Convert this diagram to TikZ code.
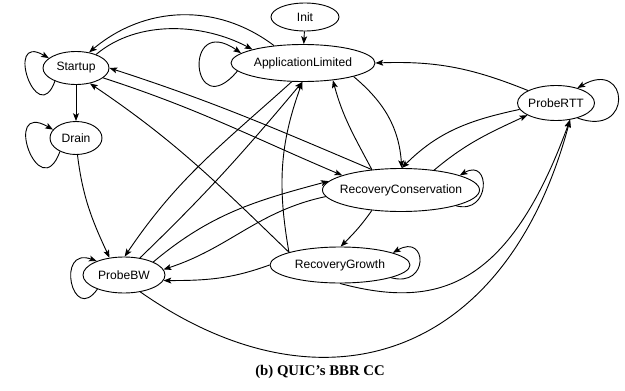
\documentclass[tikz,border=0pt]{standalone}
\usepackage{fontspec}
\setmainfont{Liberation Sans}
\newfontfamily\capfont{Liberation Serif}
\usepackage{tikz}
\usetikzlibrary{shapes.geometric, arrows.meta}
\tikzset{
    state/.style = {ellipse, draw = black, line width = 0.65pt, inner xsep = -4pt, inner ysep = 0pt, font = \fontsize{8.6}{10}\selectfont},
    trans/.style = {-{Stealth[length = 5.5pt, width = 4.2pt, inset = 1.2pt]}, line width = 0.65pt},
    caption/.style = {font = \capfont\bfseries\fontsize{10.5}{12}\selectfont}
}

\begin{document}
\begin{tikzpicture}
        \useasboundingbox (0,0) rectangle (15.625,9.75);
        \node [state, minimum width = 1.7cm, minimum height = 0.7cm] (init) at (7.625,9.325) {Init};
        \node [state, minimum width = 3.6cm, minimum height = 0.925cm] (app) at (7.575,8.175) {ApplicationLimited};
        \node [state, minimum width = 1.65cm, minimum height = 0.825cm] (start) at (1.9,8.05) {Startup};
        \node [state, minimum width = 1.3cm, minimum height = 0.825cm] (drain) at (1.9,6.3) {Drain};
        \node [state, minimum width = 2.05cm, minimum height = 0.9cm] (bw) at (3.1,2.875) {ProbeBW};
        \node [state, minimum width = 3.925cm, minimum height = 1.075cm] (rc) at (10.025,5) {RecoveryConservation};
        \node [state, minimum width = 3.5cm, minimum height = 0.9cm] (rg) at (8.5,3.125) {RecoveryGrowth};
        \node [state, minimum width = 1.925cm, minimum height = 0.875cm] (rtt) at (13.9,7.175) {ProbeRTT};
        \node [caption] (cap) at (8.0,0.45) {(b) QUIC’s BBR CC};

        \draw [trans] (init) -- (app);
        \draw [trans] (app.149) to [out = 143, in = 40] (start.50);
        \draw [trans] (start.34) to [out = 40, in = 152, looseness = 0.9] (app.165);
        \draw [trans] (start.212) to [out = 250, in = 150, distance = 1.3cm] (start.160);
        \draw [trans] (app.187) to [out = 230, in = 145, distance = 1.8cm] (app.171);
        \draw [trans] (start) -- (drain);
        \draw [trans] (drain.220) to [out = 250, in = 150, distance = 1.5cm] (drain.160);
        \draw [trans] (drain.275) to [out = 277, in = 115] (bw.130);
        \draw [trans] (bw.208) to [out = 235, in = 160, distance = 1.1cm] (bw.153);
        \draw [trans] (app.239) to [out = 222, in = 56] (bw.88);
        \draw [trans] (bw.47) to [out = 44, in = 230] (app.268);
        \draw [trans] (rg.166) to [out = 136, in = 326] (start.312);
        \draw [trans] (rc.145) to [out = 157, in = 342] (start.0);
        \draw [trans] (start.340) to [out = 342, in = 157] (rc.166);
        \draw [trans] (rc.145) to [out = 118, in = 285] (app.330);
        \draw [trans] (app.345) to [out = 320, in = 94] (rc.88);
        \draw [trans] (rtt.156) to [out = 158, in = 2] (app.0);
        \draw [trans] (rtt.325) to [out = 340, in = 30, distance = 1.5cm] (rtt.35);
        \draw [trans] (rtt.190) to [out = 192, in = 45] (rc.88);
        \draw [trans] (rc.31) to [out = 40, in = 205] (rtt.203);
        \draw [trans] (rc.344) to [out = 345, in = 30, distance = 0.9cm] (rc.14);
        \draw [trans] (rc.215) to [out = 235, in = 45] (rg.88);
        \draw [trans] (rg.346) to [out = 345, in = 30, distance = 1cm] (rg.13);
        \draw [trans] (bw.24) to [out = 40, in = 195] (rc.173);
        \draw [trans] (rc.185) to [out = 192, in = 18] (bw.8);
        \draw [trans] (rg.180) to [out = 200, in = 0] (bw.352);
        \draw [trans] (rg.166) to [out = 100, in = 250] (app.268);
        \draw [trans] (rg.270) to [out = 345, in = 250, out distance = 2.5cm, in distance = 4.5cm] (rtt.310);
        \draw [trans] (bw.314) to [out = 325, in = 255, out distance = 5.5cm, in distance = 6.25cm] (rtt.310);
    \end{tikzpicture}
\end{document}
